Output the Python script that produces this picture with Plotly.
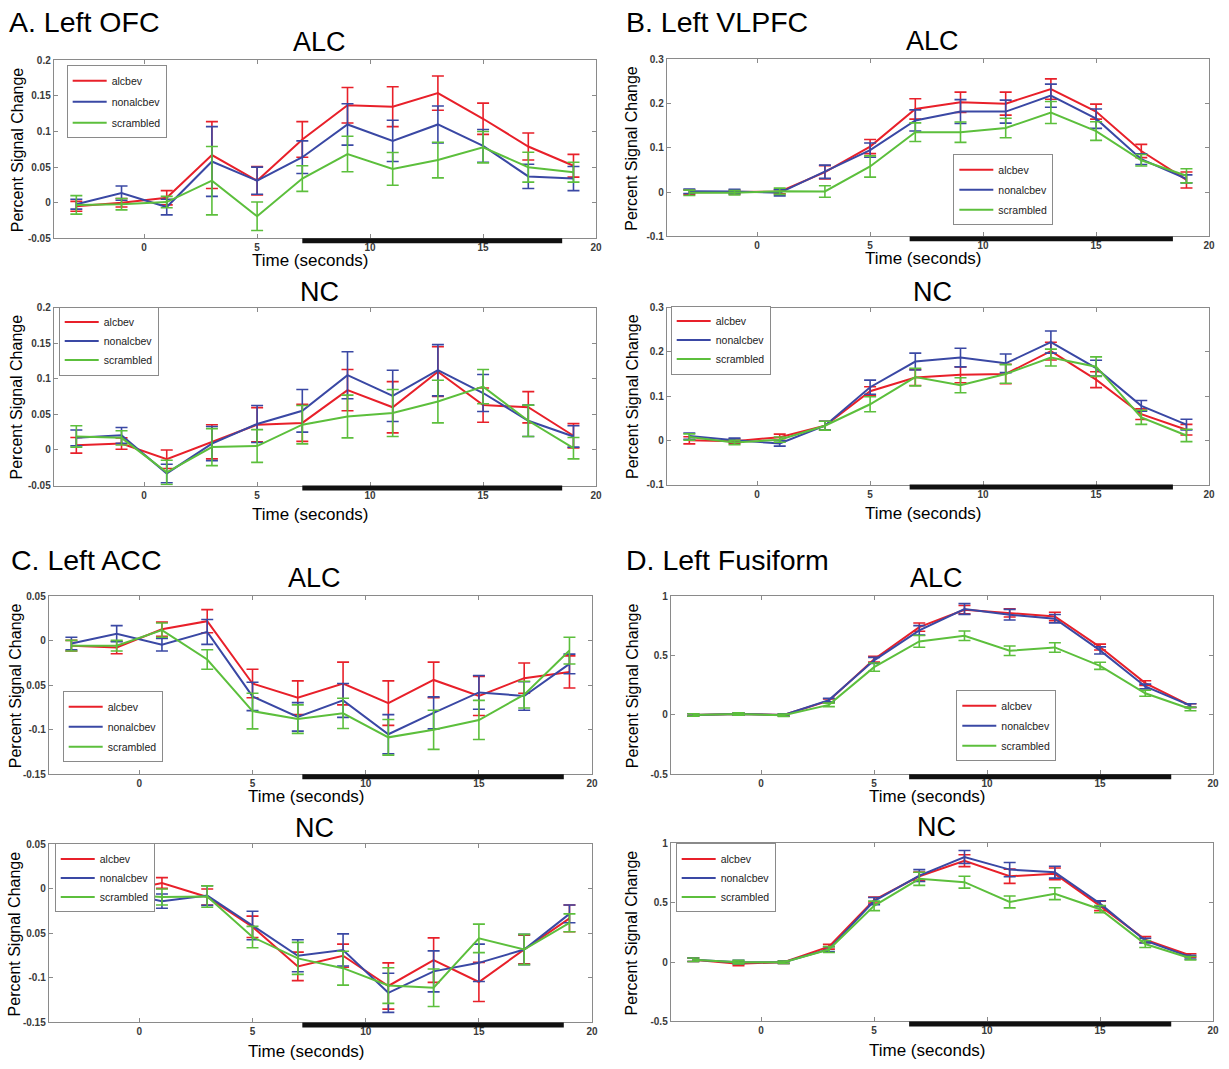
import plotly.graph_objects as go

# ---------------------------------------------------------------------------
# Time course of percent signal change (mean +/- SEM) in four left-hemisphere
# regions, for the ALC and NC groups, by cue type.
# ---------------------------------------------------------------------------
time_s = [-3, -1, 1, 3, 5, 7, 9, 11, 13, 15, 17, 19]
cue_types = ["alcbev", "nonalcbev", "scrambled"]
cue_colors = ["#e8202a", "#3a48a4", "#5cbf3c"]

# ---- A. Left OFC -----------------------------------------------------------
ofc_alc_alcbev = [-0.005, 0.000, 0.007, 0.067, 0.031, 0.089, 0.137, 0.135, 0.154, 0.118, 0.079, 0.052]
ofc_alc_alcbev_sem = [0.007, 0.006, 0.010, 0.047, 0.020, 0.025, 0.025, 0.028, 0.024, 0.022, 0.019, 0.016]
ofc_alc_nonalcbev = [-0.002, 0.0135, -0.006, 0.058, 0.031, 0.064, 0.110, 0.087, 0.110, 0.080, 0.037, 0.034]
ofc_alc_nonalcbev_sem = [0.007, 0.010, 0.011, 0.049, 0.019, 0.023, 0.029, 0.029, 0.026, 0.023, 0.017, 0.017]
ofc_alc_scrambled = [-0.003, -0.002, 0.001, 0.031, -0.019, 0.034, 0.0685, 0.0475, 0.060, 0.078, 0.050, 0.043]
ofc_alc_scrambled_sem = [0.013, 0.008, 0.008, 0.048, 0.020, 0.018, 0.025, 0.023, 0.025, 0.022, 0.021, 0.014]

ofc_nc_alcbev = [0.0065, 0.009, -0.013, 0.0115, 0.0355, 0.038, 0.084, 0.060, 0.110, 0.063, 0.060, 0.020]
ofc_nc_alcbev_sem = [0.011, 0.008, 0.013, 0.024, 0.024, 0.026, 0.029, 0.036, 0.035, 0.024, 0.022, 0.017]
ofc_nc_nonalcbev = [0.017, 0.0205, -0.033, 0.009, 0.0365, 0.055, 0.105, 0.076, 0.112, 0.080, 0.041, 0.019]
ofc_nc_nonalcbev_sem = [0.011, 0.011, 0.013, 0.024, 0.026, 0.030, 0.033, 0.036, 0.036, 0.026, 0.022, 0.015]
ofc_nc_scrambled = [0.019, 0.017, -0.0315, 0.004, 0.0055, 0.0355, 0.047, 0.052, 0.068, 0.089, 0.041, 0.0025]
ofc_nc_scrambled_sem = [0.015, 0.010, 0.017, 0.026, 0.023, 0.027, 0.030, 0.033, 0.030, 0.024, 0.022, 0.015]

# ---- B. Left VLPFC ---------------------------------------------------------
vlpfc_alc_alcbev = [0.000, 0.000, 0.001, 0.045, 0.103, 0.188, 0.203, 0.200, 0.233, 0.182, 0.093, 0.0275]
vlpfc_alc_alcbev_sem = [0.005, 0.004, 0.005, 0.015, 0.016, 0.023, 0.023, 0.026, 0.023, 0.017, 0.015, 0.018]
vlpfc_alc_nonalcbev = [0.002, 0.0015, -0.0015, 0.046, 0.095, 0.162, 0.182, 0.182, 0.218, 0.166, 0.0745, 0.030]
vlpfc_alc_nonalcbev_sem = [0.005, 0.005, 0.007, 0.015, 0.016, 0.024, 0.027, 0.026, 0.026, 0.022, 0.012, 0.009]
vlpfc_alc_scrambled = [-0.0015, -0.0015, 0.002, 0.0015, 0.058, 0.1355, 0.1355, 0.145, 0.180, 0.138, 0.072, 0.037]
vlpfc_alc_scrambled_sem = [0.006, 0.005, 0.007, 0.013, 0.024, 0.021, 0.023, 0.022, 0.025, 0.021, 0.013, 0.016]

vlpfc_nc_alcbev = [0.000, -0.002, 0.007, 0.033, 0.111, 0.142, 0.148, 0.150, 0.2015, 0.137, 0.059, 0.024]
vlpfc_nc_alcbev_sem = [0.008, 0.005, 0.007, 0.010, 0.010, 0.018, 0.018, 0.022, 0.020, 0.018, 0.012, 0.012]
vlpfc_nc_nonalcbev = [0.0095, 0.000, -0.007, 0.033, 0.120, 0.178, 0.187, 0.174, 0.222, 0.163, 0.078, 0.0355]
vlpfc_nc_nonalcbev_sem = [0.007, 0.005, 0.006, 0.010, 0.016, 0.019, 0.021, 0.021, 0.025, 0.018, 0.012, 0.012]
vlpfc_nc_scrambled = [0.0075, -0.005, 0.0015, 0.033, 0.0815, 0.143, 0.1245, 0.150, 0.187, 0.1665, 0.052, 0.011]
vlpfc_nc_scrambled_sem = [0.007, 0.005, 0.006, 0.010, 0.017, 0.020, 0.017, 0.021, 0.019, 0.022, 0.016, 0.014]

# ---- C. Left ACC -----------------------------------------------------------
acc_alc_alcbev = [-0.0055, -0.0075, 0.013, 0.022, -0.048, -0.064, -0.048, -0.070, -0.044, -0.062, -0.042, -0.035]
acc_alc_alcbev_sem = [0.006, 0.007, 0.008, 0.013, 0.016, 0.019, 0.024, 0.025, 0.020, 0.022, 0.017, 0.018]
acc_alc_nonalcbev = [-0.003, 0.008, -0.0045, 0.010, -0.0625, -0.0855, -0.067, -0.105, -0.081, -0.058, -0.062, -0.026]
acc_alc_nonalcbev_sem = [0.007, 0.009, 0.007, 0.014, 0.016, 0.016, 0.019, 0.022, 0.018, 0.019, 0.016, 0.011]
acc_alc_scrambled = [-0.0055, -0.0055, 0.012, -0.021, -0.079, -0.088, -0.0815, -0.1085, -0.100, -0.089, -0.0605, -0.011]
acc_alc_scrambled_sem = [0.006, 0.006, 0.008, 0.011, 0.020, 0.016, 0.017, 0.020, 0.022, 0.022, 0.015, 0.015]

acc_nc_alcbev = [-0.002, -0.004, 0.0067, -0.009, -0.0425, -0.087, -0.075, -0.109, -0.080, -0.1045, -0.068, -0.033]
acc_nc_alcbev_sem = [0.006, 0.006, 0.006, 0.009, 0.012, 0.016, 0.013, 0.026, 0.025, 0.022, 0.016, 0.015]
acc_nc_nonalcbev = [0.000, -0.003, -0.0137, -0.0074, -0.041, -0.075, -0.0685, -0.1167, -0.0926, -0.083, -0.068, -0.028]
acc_nc_nonalcbev_sem = [0.006, 0.006, 0.008, 0.011, 0.016, 0.018, 0.018, 0.022, 0.023, 0.021, 0.017, 0.010]
acc_nc_scrambled = [0.000, -0.006, -0.009, -0.0085, -0.054, -0.078, -0.089, -0.1085, -0.111, -0.0555, -0.068, -0.038]
acc_nc_scrambled_sem = [0.006, 0.006, 0.009, 0.012, 0.012, 0.018, 0.019, 0.020, 0.021, 0.016, 0.017, 0.010]

# ---- D. Left Fusiform ------------------------------------------------------
fus_alc_alcbev = [0.000, 0.008, 0.000, 0.120, 0.470, 0.740, 0.887, 0.860, 0.830, 0.572, 0.268, 0.079]
fus_alc_alcbev_sem = [0.010, 0.010, 0.010, 0.015, 0.025, 0.035, 0.035, 0.035, 0.035, 0.025, 0.020, 0.015]
fus_alc_nonalcbev = [0.000, 0.008, 0.000, 0.125, 0.460, 0.713, 0.893, 0.845, 0.811, 0.544, 0.240, 0.079]
fus_alc_nonalcbev_sem = [0.010, 0.010, 0.010, 0.015, 0.025, 0.040, 0.045, 0.045, 0.035, 0.030, 0.020, 0.015]
fus_alc_scrambled = [0.000, 0.008, -0.003, 0.085, 0.403, 0.620, 0.668, 0.541, 0.569, 0.414, 0.183, 0.050]
fus_alc_scrambled_sem = [0.010, 0.010, 0.010, 0.015, 0.035, 0.050, 0.040, 0.040, 0.040, 0.030, 0.025, 0.015]

fus_nc_alcbev = [0.020, -0.014, 0.000, 0.130, 0.524, 0.724, 0.855, 0.724, 0.744, 0.474, 0.190, 0.056]
fus_nc_alcbev_sem = [0.015, 0.015, 0.010, 0.020, 0.025, 0.035, 0.050, 0.060, 0.050, 0.040, 0.025, 0.015]
fus_nc_nonalcbev = [0.020, 0.000, 0.000, 0.110, 0.515, 0.730, 0.886, 0.780, 0.758, 0.493, 0.181, 0.042]
fus_nc_nonalcbev_sem = [0.015, 0.015, 0.010, 0.020, 0.030, 0.050, 0.055, 0.060, 0.050, 0.025, 0.020, 0.015]
fus_nc_scrambled = [0.020, 0.000, 0.000, 0.106, 0.474, 0.702, 0.674, 0.507, 0.577, 0.446, 0.153, 0.033]
fus_nc_scrambled_sem = [0.015, 0.015, 0.010, 0.025, 0.040, 0.055, 0.050, 0.050, 0.050, 0.030, 0.030, 0.015]

# Region labels, stimulus window (s) and y-axis ticks per region
region_labels = ["A. Left OFC", "B. Left VLPFC", "C. Left ACC", "D. Left Fusiform"]
group_labels = ["ALC", "NC"]
stim_onset = [7.0, 6.75, 7.2, 6.55]
stim_offset = [18.5, 18.4, 18.75, 18.15]

ofc_yticks = [-0.05, 0, 0.05, 0.1, 0.15, 0.2]
ofc_yticklabels = ["-0.05", "0", "0.05", "0.1", "0.15", "0.2"]
vlpfc_yticks = [-0.1, 0, 0.1, 0.2, 0.3]
vlpfc_yticklabels = ["-0.1", "0", "0.1", "0.2", "0.3"]
acc_yticks = [-0.15, -0.1, -0.05, 0, 0.05]
acc_yticklabels = ["-0.15", "-0.1", "0.05", "0", "0.05"]
fus_yticks = [-0.5, 0, 0.5, 1]
fus_yticklabels = ["-0.5", "0", "0.5", "1"]
xticks = [0, 5, 10, 15, 20]
xticklabels = ["0", "5", "10", "15", "20"]

# ---------------------------------------------------------------------------
W, H = 1229, 1069
FONT = "Liberation Sans, Arial, Helvetica, sans-serif"
AXIS_GRAY = "#8a8a8a"

series = {
    (0, 0): ([ofc_alc_alcbev, ofc_alc_nonalcbev, ofc_alc_scrambled],
             [ofc_alc_alcbev_sem, ofc_alc_nonalcbev_sem, ofc_alc_scrambled_sem]),
    (0, 1): ([ofc_nc_alcbev, ofc_nc_nonalcbev, ofc_nc_scrambled],
             [ofc_nc_alcbev_sem, ofc_nc_nonalcbev_sem, ofc_nc_scrambled_sem]),
    (1, 0): ([vlpfc_alc_alcbev, vlpfc_alc_nonalcbev, vlpfc_alc_scrambled],
             [vlpfc_alc_alcbev_sem, vlpfc_alc_nonalcbev_sem, vlpfc_alc_scrambled_sem]),
    (1, 1): ([vlpfc_nc_alcbev, vlpfc_nc_nonalcbev, vlpfc_nc_scrambled],
             [vlpfc_nc_alcbev_sem, vlpfc_nc_nonalcbev_sem, vlpfc_nc_scrambled_sem]),
    (2, 0): ([acc_alc_alcbev, acc_alc_nonalcbev, acc_alc_scrambled],
             [acc_alc_alcbev_sem, acc_alc_nonalcbev_sem, acc_alc_scrambled_sem]),
    (2, 1): ([acc_nc_alcbev, acc_nc_nonalcbev, acc_nc_scrambled],
             [acc_nc_alcbev_sem, acc_nc_nonalcbev_sem, acc_nc_scrambled_sem]),
    (3, 0): ([fus_alc_alcbev, fus_alc_nonalcbev, fus_alc_scrambled],
             [fus_alc_alcbev_sem, fus_alc_nonalcbev_sem, fus_alc_scrambled_sem]),
    (3, 1): ([fus_nc_alcbev, fus_nc_nonalcbev, fus_nc_scrambled],
             [fus_nc_alcbev_sem, fus_nc_nonalcbev_sem, fus_nc_scrambled_sem]),
}
yaxis_spec = [
    ([-0.05, 0.2], ofc_yticks, ofc_yticklabels),
    ([-0.1, 0.3], vlpfc_yticks, vlpfc_yticklabels),
    ([-0.15, 0.05], acc_yticks, acc_yticklabels),
    ([-0.5, 1.0], fus_yticks, fus_yticklabels),
]

# Layout geometry in pixels: plot boxes (x0, x1, top, bottom)
boxes = {
    (0, 0): (54, 599, 55, 235), (0, 1): (54, 599, 305, 485),
    (1, 0): (670, 1215, 54, 233), (1, 1): (670, 1215, 305, 484),
    (2, 0): (49, 595, 597, 777), (2, 1): (49, 595, 848, 1028),
    (3, 0): (674, 1219, 597, 777), (3, 1): (674, 1219, 847, 1027),
}
# Legend top-left corner (px) and gap between entries
legend_pos = {
    (0, 0): (67, 60, 2), (0, 1): (59, 304, 0),
    (1, 0): (958, 150, 1), (1, 1): (674, 303, 0),
    (2, 0): (63, 693, 1), (2, 1): (55, 847, 0),
    (3, 0): (961, 692, 1), (3, 1): (679, 847, 0),
}
ylabel_x = [17, 635, 15, 635]
region_label_pos = [(7, 16), (627, 16), (9, 560), (627, 560)]

fig = go.Figure()
annotations = []
shapes = []

for idx, key in enumerate(sorted(boxes)):
    region, group = key
    n = idx + 1
    xa = "x" if n == 1 else f"x{n}"
    ya = "y" if n == 1 else f"y{n}"
    leg = "legend" if n == 1 else f"legend{n}"
    x0, x1, top, bot = boxes[key]
    means, sems = series[key]

    for name, color, m, e in zip(cue_types, cue_colors, means, sems):
        fig.add_trace(go.Scatter(
            x=time_s, y=m, name=name, mode="lines",
            line=dict(color=color, width=2),
            error_y=dict(type="data", array=e, visible=True, color=color,
                         thickness=1.6, width=6),
            xaxis=xa, yaxis=ya, legend=leg,
            legendgroup=f"{n}-{name}", showlegend=True,
        ))

    yrange, yt, ytl = yaxis_spec[region]
    axis_common = dict(
        showline=True, linecolor=AXIS_GRAY, linewidth=1, mirror="ticks",
        ticks="inside", ticklen=4, tickcolor=AXIS_GRAY, tickwidth=1,
        showgrid=False, zeroline=False,
        tickfont=dict(family=FONT, size=10, color="#3a3a3a", weight="bold"),
    )
    fig.update_layout({
        f"xaxis{'' if n == 1 else n}": dict(
            domain=[x0 / W, x1 / W], range=[-4, 20], anchor=ya,
            tickvals=xticks, ticktext=xticklabels, **axis_common),
        f"yaxis{'' if n == 1 else n}": dict(
            domain=[1 - bot / H, 1 - top / H], range=yrange, anchor=xa,
            tickvals=yt, ticktext=ytl, **axis_common),
    })

    lx, ly, gap = legend_pos[key]
    fig.update_layout({leg: dict(
        x=lx / W, y=1 - ly / H, xanchor="left", yanchor="top",
        xref="paper", yref="paper",
        bgcolor="white", bordercolor=AXIS_GRAY, borderwidth=1,
        font=dict(family=FONT, size=10.5, color="#222"),
        tracegroupgap=gap, itemwidth=34,
    )})

    # stimulus presentation bar along the bottom of the axes
    shapes.append(dict(
        type="rect", xref=xa, yref=f"{ya} domain",
        x0=stim_onset[region], x1=stim_offset[region], y0=-0.028, y1=0.0,
        fillcolor="#111", line=dict(width=0), layer="above"))

    # group title
    annotations.append(dict(
        text=group_labels[group], xref=f"{xa} domain", yref=f"{ya} domain",
        x=0.49, y=1, yshift=18 if group == 0 else 16, xanchor="center",
        yanchor="middle", showarrow=False,
        font=dict(family=FONT, size=27, color="black")))
    # x-axis title
    annotations.append(dict(
        text="Time (seconds)", xref=f"{xa} domain", yref=f"{ya} domain",
        x=0.474, y=0, yshift=-22 if group == 0 else -29, xanchor="center",
        yanchor="middle", showarrow=False,
        font=dict(family=FONT, size=17, color="black")))
    # y-axis title
    annotations.append(dict(
        text="Percent Signal Change", xref="paper", yref=f"{ya} domain",
        x=ylabel_x[region] / W, y=0.5, xanchor="center", yanchor="middle",
        textangle=-90, showarrow=False,
        font=dict(family=FONT, size=16, color="black")))

for (px, py), label in zip(region_label_pos, region_labels):
    annotations.append(dict(
        text=label, xref="paper", yref="paper", x=px / W, y=1 - py / H,
        xanchor="left", yanchor="middle", showarrow=False,
        font=dict(family=FONT, size=28.5, color="black")))

fig.update_layout(
    width=W, height=H, margin=dict(l=0, r=0, t=0, b=0),
    paper_bgcolor="white", plot_bgcolor="white",
    annotations=annotations, shapes=shapes,
    font=dict(family=FONT),
)

fig.write_html("out.html")
